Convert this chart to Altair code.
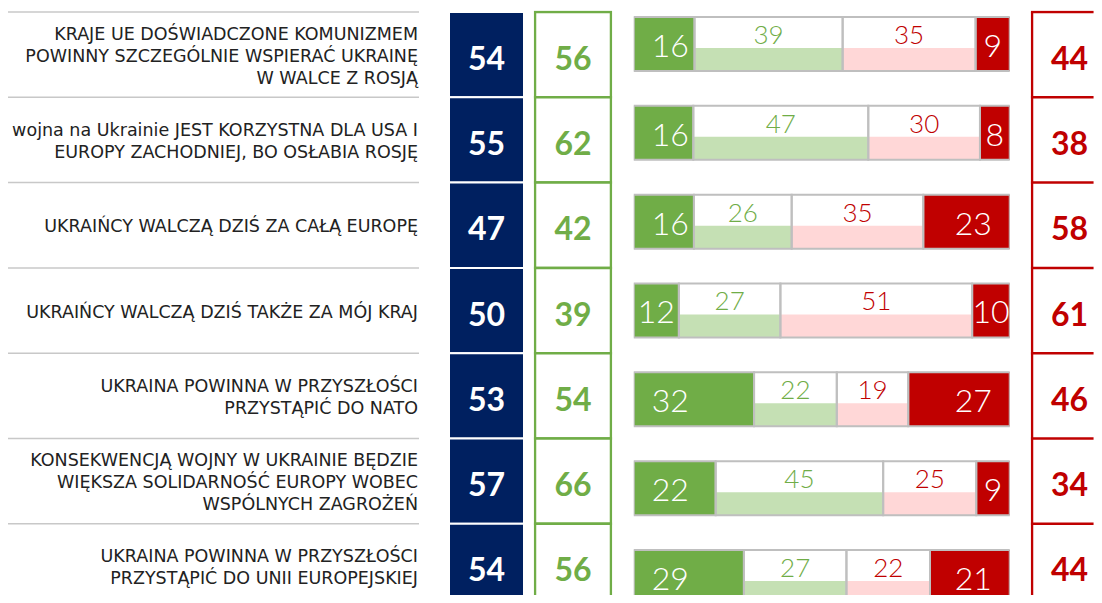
import altair as alt
import pandas as pd

# ---------------- data ----------------
labels = [
    "KRAJE UE DOŚWIADCZONE KOMUNIZMEM\nPOWINNY SZCZEGÓLNIE WSPIERAĆ UKRAINĘ\nW WALCE Z ROSJĄ",
    "wojna na Ukrainie JEST KORZYSTNA DLA USA I\nEUROPY ZACHODNIEJ, BO OSŁABIA ROSJĘ",
    "UKRAIŃCY WALCZĄ DZIŚ ZA CAŁĄ EUROPĘ",
    "UKRAIŃCY WALCZĄ DZIŚ TAKŻE ZA MÓJ KRAJ",
    "UKRAINA POWINNA W PRZYSZŁOŚCI\nPRZYSTĄPIĆ DO NATO",
    "KONSEKWENCJĄ WOJNY W UKRAINIE BĘDZIE\nWIĘKSZA SOLIDARNOŚĆ EUROPY WOBEC\nWSPÓLNYCH ZAGROŻEŃ",
    "UKRAINA POWINNA W PRZYSZŁOŚCI\nPRZYSTĄPIĆ DO UNII EUROPEJSKIEJ",
]
navy_vals = [54, 55, 47, 50, 53, 57, 54]
green_vals = [56, 62, 42, 39, 54, 66, 56]
red_vals = [44, 38, 58, 61, 46, 34, 44]
strong_yes = [16, 16, 16, 12, 32, 22, 29]
rather_yes = [39, 47, 26, 27, 22, 45, 27]
rather_no = [35, 30, 35, 51, 19, 25, 22]
strong_no = [9, 8, 23, 10, 27, 9, 21]

# ---------------- styles / layout ----------------
NAVY = "#002060"
GREEN = "#70AD47"
LIGHT_GREEN = "#C5E0B4"
PINK = "#FFD7D7"
RED = "#C00000"
GRAY = "#BFBFBF"
TEXT = "#222222"

N = len(labels)
ROW_H = 85.3          # px per row in the table columns
BAR_PITCH = 88.83     # px per row in the bar panel
PANEL_H = 584.5       # visible height (chart is cut at the window bottom)
TOP_IN = 1.5          # px of room above the first row inside each panel
COL_D0 = -TOP_IN / ROW_H
BAR_D0 = -TOP_IN / BAR_PITCH
COL_DOM = [COL_D0, COL_D0 + PANEL_H / ROW_H]
BAR_DOM = [BAR_D0, BAR_D0 + PANEL_H / BAR_PITCH]
BAR_OFF = 5.0         # px from row top to bar top
BAR_THICK = 54.0      # bar thickness px
FILL_OFF = 31.0       # px from bar top to light fill top
LINE_H = 22.0         # label line height px

LABEL_W = 411
NAVY_W = 75
GREEN_SW = 2.5
GREEN_W = 76 + GREEN_SW
BAR_W = 376
RED_SW = 2.5
RED_W = 63

rows = pd.DataFrame({
    "idx": list(range(N)),
    "navy": navy_vals,
    "green": green_vals,
    "red": red_vals,
})
rows["top"] = rows["idx"]
rows["bot"] = rows["idx"] + 1
rows["mid"] = rows["idx"] + 0.5

# one record per label line
line_recs = []
for i, lab in enumerate(labels):
    parts = lab.split("\n")
    n = len(parts)
    for j, p in enumerate(parts):
        line_recs.append({"idx": i, "line": p,
                          "ly": i + 0.5 + (j - (n - 1) / 2) * LINE_H / ROW_H})
lines_df = pd.DataFrame(line_recs)

kinds = ["strong_yes", "rather_yes", "rather_no", "strong_no"]
series = [strong_yes, rather_yes, rather_no, strong_no]
base_fill = {"strong_yes": GREEN, "rather_yes": "white", "rather_no": "white", "strong_no": RED}
part_fill = {"rather_yes": LIGHT_GREEN, "rather_no": PINK}
light_txt = {"rather_yes": GREEN, "rather_no": RED}

recs = []
for i in range(N):
    vals = [s[i] for s in series]
    total = float(sum(vals))
    cum = 0.0
    bt = i + BAR_OFF / BAR_PITCH
    bb = bt + BAR_THICK / BAR_PITCH
    ft = bt + FILL_OFF / BAR_PITCH
    for kind, v in zip(kinds, vals):
        start = cum / total * 100
        cum += v
        end = cum / total * 100
        if kind == "strong_yes":
            anchor = "left" if v >= 15 else "center"
        elif kind == "strong_no":
            anchor = "right" if v >= 15 else "center"
        else:
            anchor = "light"
        recs.append({
            "idx": i, "kind": kind, "value": v,
            "start": start, "end": end, "midx": (start + end) / 2,
            "bar_top": bt, "bar_bot": bb, "fill_top": ft,
            "anchor": anchor,
            "fill": base_fill[kind],
            "pfill": part_fill.get(kind, "white"),
            "tcolor": light_txt.get(kind, "white"),
        })
segs = pd.DataFrame(recs)

ys_col = alt.Scale(domain=COL_DOM, reverse=True, nice=False, zero=False)
ys_bar = alt.Scale(domain=BAR_DOM, reverse=True, nice=False, zero=False)
xs_bar = alt.Scale(domain=[0, 100], nice=False, zero=False)

# ---------------- labels panel ----------------
lab_rules = alt.Chart(rows).mark_rule(color="#C8C8C8", strokeWidth=1.5, clip=True).encode(
    y=alt.Y("top:Q", scale=ys_col, axis=None),
    x=alt.value(0), x2=alt.value(LABEL_W),
)
lab_text = alt.Chart(lines_df).mark_text(
    align="right", baseline="middle",
    font="DejaVu Sans", fontSize=17.5, color=TEXT, dy=2,
).encode(
    x=alt.value(LABEL_W - 1),
    y=alt.Y("ly:Q", scale=ys_col, axis=None),
    text="line:N",
)
labels_panel = alt.layer(lab_rules, lab_text).properties(width=LABEL_W, height=PANEL_H)

# ---------------- number columns ----------------
def num_text(field, tcolor, xpos):
    return alt.Chart(rows).mark_text(
        font="Lato", fontWeight="bold", fontSize=32, color=tcolor,
        align="center", baseline="alphabetic", dy=15,
    ).encode(
        x=alt.value(xpos),
        y=alt.Y("mid:Q", scale=ys_col, axis=None),
        text=f"{field}:Q",
    )

def num_col(field, width, fill, stroke, sw, tcolor, inset):
    cell = alt.Chart(rows).mark_rect(fill=fill, stroke=stroke, strokeWidth=sw, clip=True).encode(
        y=alt.Y("top:Q", scale=ys_col, axis=None), y2="bot:Q",
        x=alt.value(inset), x2=alt.value(width - inset),
    )
    return alt.layer(cell, num_text(field, tcolor, width / 2)).properties(width=width, height=PANEL_H)

navy_panel = num_col("navy", NAVY_W, NAVY, "white", 2, "white", 0)
green_panel = num_col("green", GREEN_W, "white", GREEN, GREEN_SW, GREEN, GREEN_SW / 2)

# red column runs off the right edge: horizontal rules + left border only
red_h = alt.Chart(rows).mark_rule(color=RED, strokeWidth=RED_SW, clip=True).encode(
    y=alt.Y("top:Q", scale=ys_col, axis=None),
    x=alt.value(0), x2=alt.value(RED_W),
)
red_v = alt.Chart(rows).mark_rule(color=RED, strokeWidth=RED_SW, clip=True).encode(
    y=alt.Y("top:Q", scale=ys_col, axis=None), y2="bot:Q",
    x=alt.value(RED_SW / 2),
)
red_panel = alt.layer(red_h, red_v, num_text("red", RED, 38.75)).properties(
    width=RED_W, height=PANEL_H
)

# ---------------- bars panel ----------------
bx = alt.X("start:Q", scale=xs_bar, axis=None)
base = alt.Chart(segs).mark_rect(clip=True).encode(
    x=bx, x2="end:Q",
    y=alt.Y("bar_top:Q", scale=ys_bar, axis=None), y2="bar_bot:Q",
    color=alt.Color("fill:N", scale=None),
)
part = alt.Chart(segs).transform_filter(alt.datum.anchor == "light").mark_rect(clip=True).encode(
    x=bx, x2="end:Q",
    y=alt.Y("fill_top:Q", scale=ys_bar, axis=None), y2="bar_bot:Q",
    color=alt.Color("pfill:N", scale=None),
)
outline = alt.Chart(segs).mark_rect(fillOpacity=0, stroke=GRAY, strokeWidth=2, clip=True).encode(
    x=bx, x2="end:Q",
    y=alt.Y("bar_top:Q", scale=ys_bar, axis=None), y2="bar_bot:Q",
)

def strong_text(anchor, xfield, align, dx):
    return alt.Chart(segs).transform_filter(alt.datum.anchor == anchor).mark_text(
        font="Lato", fontWeight=300, fontSize=32, color="white",
        align=align, baseline="alphabetic", dx=dx, dy=40,
    ).encode(
        x=alt.X(f"{xfield}:Q", scale=xs_bar, axis=None),
        y=alt.Y("bar_top:Q", scale=ys_bar, axis=None),
        text="value:Q",
    )

t_left = strong_text("left", "start", "left", 18)
t_right = strong_text("right", "end", "right", -18)
t_center = strong_text("center", "midx", "center", 0)
t_light = alt.Chart(segs).transform_filter(alt.datum.anchor == "light").mark_text(
    font="Lato", fontWeight=300, fontSize=26,
    align="center", baseline="alphabetic", dy=27,
).encode(
    x=alt.X("midx:Q", scale=xs_bar, axis=None),
    y=alt.Y("bar_top:Q", scale=ys_bar, axis=None),
    text="value:Q",
    color=alt.Color("tcolor:N", scale=None),
)
bars_panel = alt.layer(base, part, outline, t_left, t_right, t_center, t_light).properties(
    width=BAR_W, height=PANEL_H
)

# ---------------- assemble ----------------
c1 = alt.hconcat(labels_panel, navy_panel, spacing=30)
c2 = alt.hconcat(c1, green_panel, spacing=11 - GREEN_SW / 2)
c3 = alt.hconcat(c2, bars_panel, spacing=22 - GREEN_SW / 2)
chart = alt.hconcat(c3, red_panel, spacing=22 - RED_SW / 2).properties(
    padding={"left": 0, "top": 4 - TOP_IN, "right": 0, "bottom": 0},
    background="white",
).configure_view(stroke=None)

chart.save("out.html", embed_options={"renderer": "svg", "actions": False})
